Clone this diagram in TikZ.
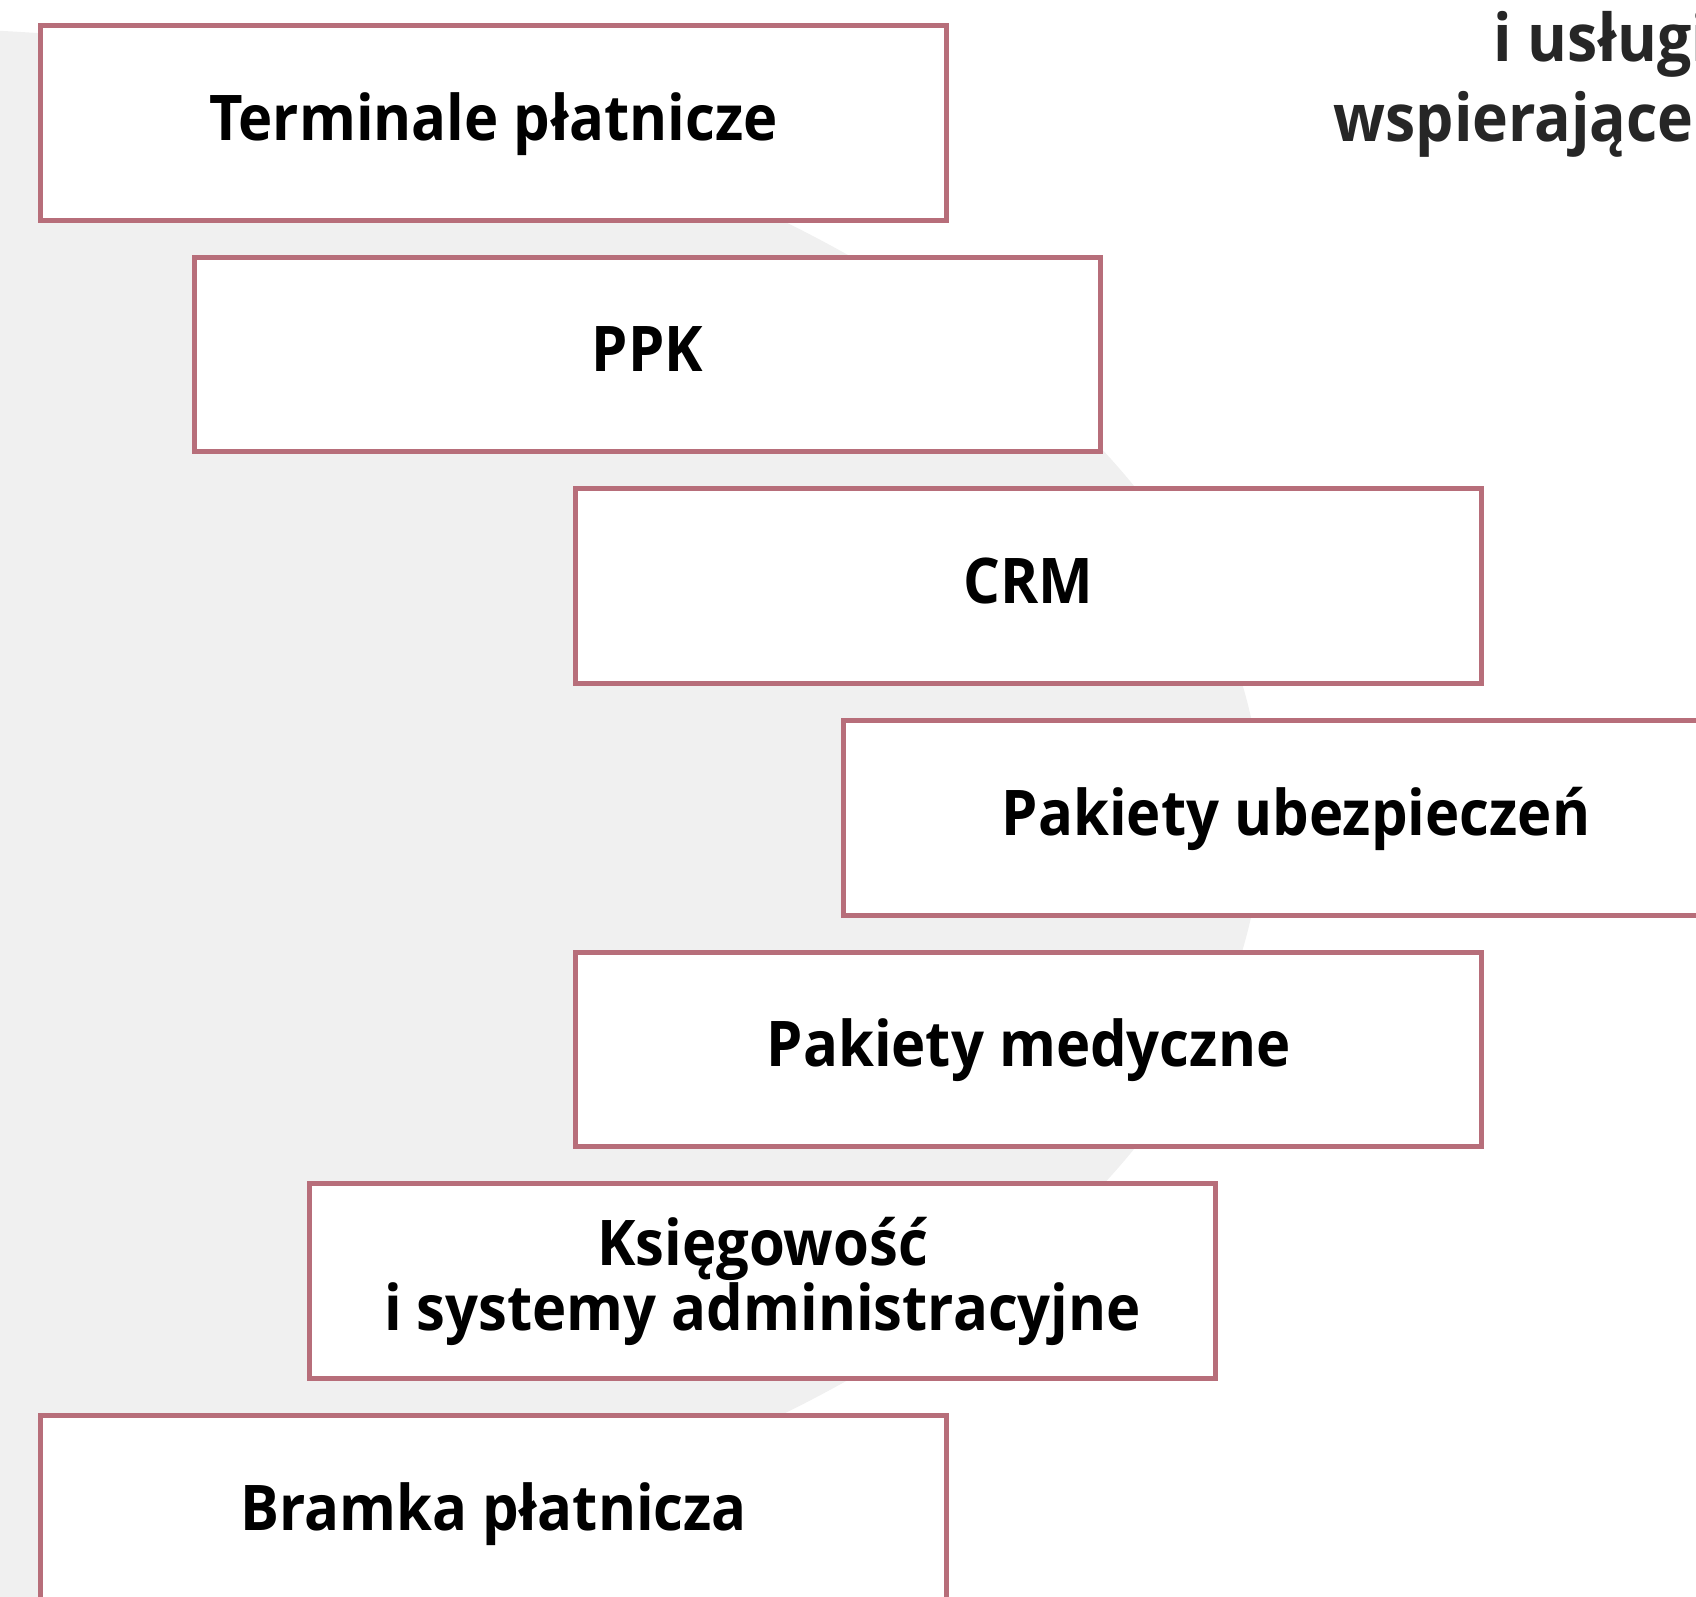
\documentclass[tikz,border=0pt]{standalone}
\usepackage{fontspec}
\setmainfont{Open Sans}[BoldFeatures={FakeStretch=0.92}]
\definecolor{boxedge}{HTML}{B76E7A}
\definecolor{backdrop}{HTML}{F0F0F0}
\definecolor{titlegray}{HTML}{262626}
\begin{document}
\begin{tikzpicture}[x=0.5pt,y=-0.5pt,
  item/.style={draw=boxedge, line width=2.5pt, fill=white, anchor=north west,
    outer sep=0pt, inner sep=0pt, minimum width=453pt, minimum height=97.25pt,
    font=\fontsize{31.5pt}{31.3pt}\selectfont\bfseries, align=center},
  oneline/.style={item, text height=24pt, text depth=6.5pt},
  heading/.style={anchor=base west, inner sep=0pt, text=titlegray,
    font=\fontsize{33pt}{37pt}\selectfont\bfseries}]
\useasboundingbox (0,0) rectangle (1696,1596);
\clip (0,0) rectangle (1696,1596);
% large backdrop shape behind the list
\fill[backdrop] (-128,817.5) ellipse [x radius=695pt, y radius=395pt];
% staggered list items
\node[oneline] (terminale) at (40.5,25.5) {Terminale płatnicze};
\node[oneline] (ppk) at (194.5,257.2) {PPK};
\node[oneline] (crm) at (575.5,488.8) {CRM};
\node[oneline] (ubezp) at (843,720.5) {Pakiety ubezpieczeń};
\node[oneline] (medyczne) at (575.5,952.2) {Pakiety medyczne};
\node[item] (ksiegowosc) at (309.5,1183.8) {Księgowość\\i systemy administracyjne};
\node[oneline] (bramka) at (40.5,1415.5) {Bramka płatnicza};
% heading in the top right corner
\node[heading] (title1) at (1493,61) {i usługi};
\node[heading] (title2) at (1333,141) {wspierające};
\end{tikzpicture}
\end{document}
